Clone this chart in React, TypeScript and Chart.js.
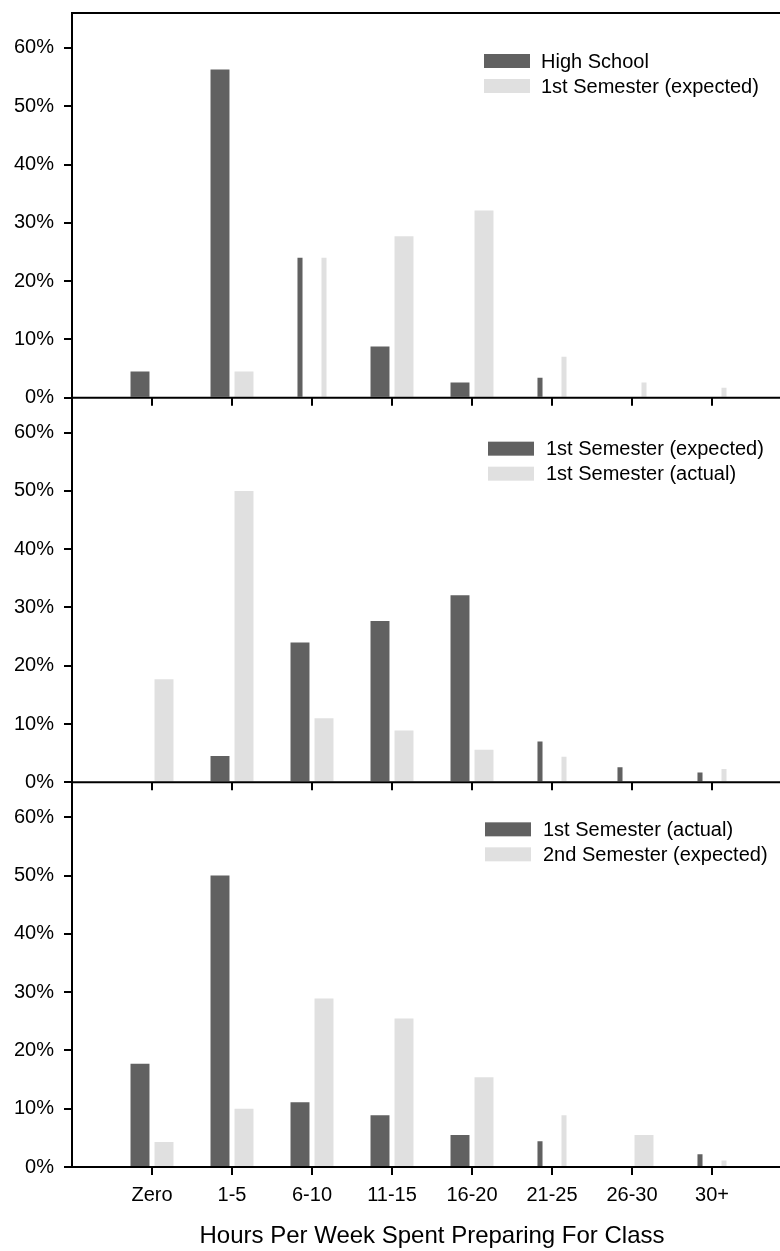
import React, { useEffect, useRef } from "react";
import { Chart, registerables } from "chart.js";

Chart.register(...registerables);

// ---------- data ----------
const categories = ["Zero", "1-5", "6-10", "11-15", "16-20", "21-25", "26-30", "30+"];
const yTickValues = [0, 10, 20, 30, 40, 50, 60];
const xTitle = "Hours Per Week Spent Preparing For Class";

const panel1Labels = ["High School", "1st Semester (expected)"];
const panel1Dark = [4.5, 56.3, 24.0, 8.8, 2.6, 3.4, 0, 0];
const panel1Light = [0, 4.5, 24.0, 27.7, 32.1, 7.0, 2.6, 1.7];

const panel2Labels = ["1st Semester (expected)", "1st Semester (actual)"];
const panel2Dark = [0, 4.5, 24.0, 27.7, 32.1, 7.0, 2.6, 1.7];
const panel2Light = [17.7, 50.0, 11.0, 8.9, 5.6, 4.4, 0, 2.3];

const panel3Labels = ["1st Semester (actual)", "2nd Semester (expected)"];
const panel3Dark = [17.7, 50.0, 11.1, 8.9, 5.5, 4.4, 0, 2.2];
const panel3Light = [4.3, 10.0, 28.9, 25.5, 15.4, 8.9, 5.5, 1.1];

// ---------- style (not data) ----------
const DARK = "#616161";
const LIGHT = "#e0e0e0";
const FONT = "'Liberation Sans', Arial, Helvetica, sans-serif";
// indices of categories whose bar is drawn thin in the reference
const thinBars = [
  { dark: [2, 5], light: [2, 5, 6, 7] },
  { dark: [5, 6, 7], light: [5, 7] },
  { dark: [5, 7], light: [5, 7] },
];
const legendPos = [
  { x: 412, y: 41, tx: 469 },
  { x: 416, y: 44, tx: 474 },
  { x: 413, y: 40, tx: 471 },
];

const panels = [
  { labels: panel1Labels, dark: panel1Dark, light: panel1Light },
  { labels: panel2Labels, dark: panel2Dark, light: panel2Light },
  { labels: panel3Labels, dark: panel3Dark, light: panel3Light },
];

function makeSets(values: number[], thin: number[], color: string, stack: string, yAxisID: string) {
  return [false, true].map((isThin) => ({
    type: "bar" as const,
    data: values.map((v, i) => ({ x: i, y: thin.includes(i) === isThin ? v : null })),
    backgroundColor: color,
    borderWidth: 0,
    stack,
    yAxisID,
    xAxisID: "x",
    grouped: true,
    categoryPercentage: 0.6,
    barPercentage: isThin ? 0.21 : 0.79,
  }));
}

function yScale(weight: number) {
  return {
    type: "linear",
    position: "left",
    stack: "panels",
    stackWeight: 1,
    weight,
    min: 0,
    max: 66,
    stacked: false,
    offset: false,
    border: { display: true, color: "#000", width: 2 },
    grid: { drawOnChartArea: false, drawTicks: true, tickLength: 8, color: "#000", lineWidth: 2 },
    ticks: {
      stepSize: 10,
      includeBounds: false,
      padding: 10,
      color: "#000",
      font: { family: FONT, size: 20 },
      callback: (v: any) => v + "%",
    },
    afterBuildTicks: (s: any) => {
      s.ticks = yTickValues.map((v) => ({ value: v }));
    },
    afterFit: (s: any) => {
      s.width = 72;
      s.paddingTop = 0;
      s.paddingBottom = 0;
    },
  };
}

const framePlugin = {
  id: "frame",
  afterDatasetsDraw(chart: any) {
    const { ctx, chartArea, scales } = chart;
    ctx.save();
    ctx.strokeStyle = "#000";
    ctx.lineWidth = 2;
    ctx.beginPath();
    ctx.moveTo(chartArea.left, chartArea.top);
    ctx.lineTo(chartArea.right, chartArea.top);
    ctx.stroke();
    for (const id of ["y1", "y2"]) {
      const y0 = scales[id].getPixelForValue(0);
      ctx.beginPath();
      ctx.moveTo(chartArea.left, y0);
      ctx.lineTo(chartArea.right, y0);
      for (const t of scales.x.ticks) {
        const px = scales.x.getPixelForValue(t.value);
        ctx.moveTo(px, y0);
        ctx.lineTo(px, y0 + 8);
      }
      ctx.stroke();
    }
    panels.forEach((p, k) => {
      const s = scales["y" + (k + 1)];
      const pos = legendPos[k];
      const colors = [DARK, LIGHT];
      ctx.font = `20px ${FONT}`;
      ctx.textBaseline = "middle";
      ctx.textAlign = "left";
      p.labels.forEach((lab, r) => {
        const top = s.top + pos.y + r * 25;
        ctx.fillStyle = colors[r];
        ctx.fillRect(chartArea.left + pos.x, top, 46, 14);
        ctx.fillStyle = "#000";
        ctx.fillText(lab, chartArea.left + pos.tx, top + 8);
      });
    });
    ctx.restore();
  },
};

export default function App() {
  const ref = useRef<HTMLCanvasElement>(null);
  useEffect(() => {
    const datasets: any[] = [];
    panels.forEach((p, k) => {
      const yId = "y" + (k + 1);
      datasets.push(...makeSets(p.dark, thinBars[k].dark, DARK, "dark", yId));
      datasets.push(...makeSets(p.light, thinBars[k].light, LIGHT, "light", yId));
    });
    const chart = new Chart(ref.current as HTMLCanvasElement, {
      type: "bar",
      data: { datasets },
      options: {
        responsive: false,
        animation: false,
        devicePixelRatio: 1,
        layout: { padding: { top: 13, right: 8, left: 0, bottom: 0 } },
        plugins: { legend: { display: false }, tooltip: { enabled: false } },
        scales: {
          x: {
            type: "linear",
            position: "bottom",
            min: -1,
            max: 8,
            offset: false,
            border: { display: true, color: "#000", width: 2 },
            grid: { drawOnChartArea: false, drawTicks: true, tickLength: 8, color: "#000", lineWidth: 2, offset: false },
            ticks: {
              stepSize: 1,
              padding: 8,
              autoSkip: false,
              maxRotation: 0,
              color: "#000",
              font: { family: FONT, size: 20 },
              callback: (v: any) => categories[v] ?? "",
            },
            afterBuildTicks: (s: any) => {
              s.ticks = categories.map((_, i) => ({ value: i }));
            },
            title: {
              display: true,
              text: xTitle,
              color: "#000",
              font: { family: FONT, size: 24 },
              padding: { top: 0, bottom: 0 },
            },
            afterFit: (s: any) => {
              s.height = 84;
              s.paddingLeft = 0;
              s.paddingRight = 0;
            },
          } as any,
          y1: yScale(3) as any,
          y2: yScale(2) as any,
          y3: yScale(1) as any,
        },
      },
      plugins: [framePlugin],
    } as any);
    return () => chart.destroy();
  }, []);
  return (
    <div
      style={{
        position: "fixed",
        left: 0,
        top: 0,
        width: 780,
        height: 1251,
        overflow: "hidden",
        background: "#fff",
      }}
    >
      <canvas ref={ref} width={800} height={1251} style={{ display: "block", width: 800, height: 1251 }} />
    </div>
  );
}
